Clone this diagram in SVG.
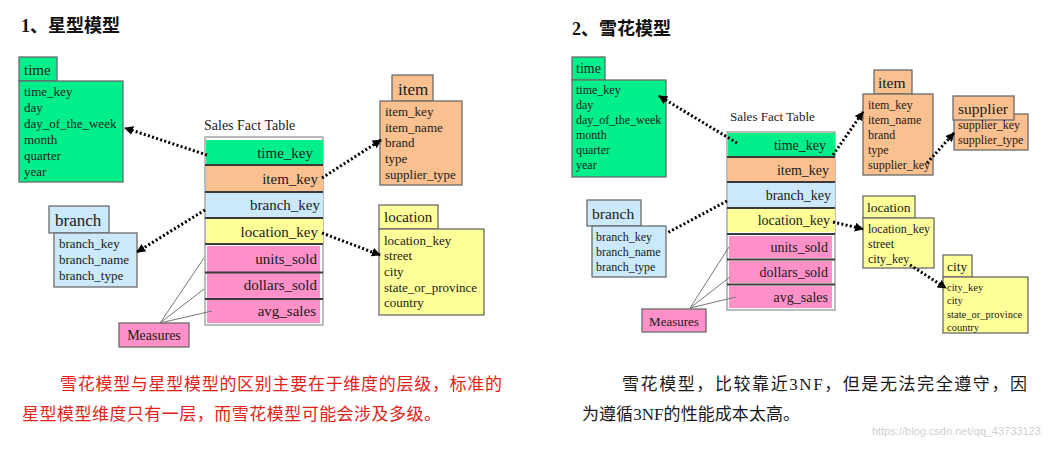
<svg xmlns="http://www.w3.org/2000/svg" width="1049" height="457" viewBox="0 0 1049 457">
<style>
  text{font-family:"Liberation Serif","Noto Sans CJK SC",serif;fill:#1a1a1a}
  .title{font-size:18px;font-weight:bold;fill:#111}
  .box{stroke:#6b6b6b;stroke-width:1.3}
  .g{fill:#00ef8a}.o{fill:#fac090}.b{fill:#cbe9fb}.y{fill:#ffff99}.p{fill:#ff91c8}
  .r13{font-size:13px}.r12{font-size:12px}.r11{font-size:10.5px}
  .fk{font-size:15px;text-anchor:end}.fk2{font-size:14px;text-anchor:end}
  .sep{stroke:#3a3a3a;stroke-width:2}
  .dot{fill:none;stroke:#000;stroke-width:3;stroke-dasharray:2 2.3}
  .thin{fill:none;stroke:#777;stroke-width:1}
  .note{font-size:17px}
</style>
<defs>
  <marker id="ah" viewBox="0 0 10 10" refX="9" refY="5" markerWidth="9" markerHeight="9" markerUnits="userSpaceOnUse" orient="auto">
    <path d="M0,0 L10,5 L0,10 z" fill="#000"/>
  </marker>
</defs>
<rect width="1049" height="457" fill="#fff"/>

<text class="title" x="21" y="32">1、星型模型</text>
<text class="title" x="572" y="35">2、雪花模型</text>

<!-- ===== LEFT: star schema ===== -->
<g id="L-time">
  <rect class="box g" x="19" y="57" width="38" height="24"/>
  <rect class="box g" x="19" y="81" width="104" height="101"/>
  <text x="24" y="75" style="font-size:15px">time</text>
  <g class="r13">
    <text x="24" y="96">time_key</text><text x="24" y="112">day</text><text x="24" y="128">day_of_the_week</text>
    <text x="24" y="144">month</text><text x="24" y="160">quarter</text><text x="24" y="176">year</text>
  </g>
</g>
<g id="L-item">
  <rect class="box o" x="392" y="75" width="41" height="26"/>
  <rect class="box o" x="380" y="101" width="82" height="84"/>
  <text x="398" y="95" style="font-size:17px">item</text>
  <g class="r13">
    <text x="385" y="116">item_key</text><text x="385" y="132">item_name</text><text x="385" y="147">brand</text>
    <text x="385" y="163">type</text><text x="385" y="179">supplier_type</text>
  </g>
</g>
<g id="L-branch">
  <rect class="box b" x="49" y="206" width="60" height="27"/>
  <rect class="box b" x="54" y="233" width="83" height="54"/>
  <text x="55" y="226" style="font-size:17px">branch</text>
  <g class="r13">
    <text x="59" y="248">branch_key</text><text x="59" y="264">branch_name</text><text x="59" y="280">branch_type</text>
  </g>
</g>
<g id="L-location">
  <rect class="box y" x="379" y="205" width="59" height="24"/>
  <rect class="box y" x="379" y="229" width="105" height="86"/>
  <text x="384" y="222" style="font-size:15px">location</text>
  <g class="r13">
    <text x="384" y="245">location_key</text><text x="384" y="260">street</text><text x="384" y="276">city</text>
    <text x="384" y="292">state_or_province</text><text x="384" y="307">country</text>
  </g>
</g>
<g id="L-fact">
  <text x="204" y="130" style="font-size:14px">Sales Fact Table</text>
  <rect x="205" y="137" width="118" height="188" fill="#fff" stroke="#999" stroke-width="1.3"/>
  <rect class="g" x="206" y="140" width="117" height="24"/>
  <rect class="o" x="206" y="166" width="117" height="25"/>
  <rect class="b" x="206" y="193" width="117" height="24"/>
  <rect class="y" x="206" y="219" width="117" height="24"/>
  <rect class="p" x="207" y="246" width="113" height="26"/>
  <rect class="p" x="207" y="273" width="113" height="25"/>
  <rect class="p" x="207" y="300" width="113" height="23"/>
  <g class="sep">
    <line x1="205" y1="165" x2="323" y2="165"/><line x1="205" y1="192" x2="323" y2="192"/>
    <line x1="205" y1="218" x2="323" y2="218"/><line x1="205" y1="244" x2="323" y2="244"/>
    <line x1="205" y1="272.5" x2="323" y2="272.5"/><line x1="205" y1="299" x2="323" y2="299"/>
  </g>
  <text class="fk" x="313" y="158">time_key</text>
  <text class="fk" x="318" y="184">item_key</text>
  <text class="fk" x="320" y="210">branch_key</text>
  <text class="fk" x="318" y="237">location_key</text>
  <text class="fk" x="317" y="264">units_sold</text>
  <text class="fk" x="317" y="290">dollars_sold</text>
  <text class="fk" x="316" y="316">avg_sales</text>
</g>
<g id="L-measures">
  <rect class="box p" x="119" y="323" width="70" height="24"/>
  <text x="154" y="340" style="font-size:14px" text-anchor="middle">Measures</text>
</g>

<!-- ===== RIGHT: snowflake schema ===== -->
<g id="R-time">
  <rect class="box g" x="572" y="57" width="33" height="23"/>
  <rect class="box g" x="572" y="80" width="94" height="97"/>
  <text x="576" y="73" style="font-size:14px">time</text>
  <g class="r12">
    <text x="576" y="94">time_key</text><text x="576" y="109">day</text><text x="576" y="124">day_of_the_week</text>
    <text x="576" y="139">month</text><text x="576" y="154">quarter</text><text x="576" y="169">year</text>
  </g>
</g>
<g id="R-branch">
  <rect class="box b" x="587" y="200" width="54" height="26"/>
  <rect class="box b" x="592" y="226" width="74" height="51"/>
  <text x="592" y="219" style="font-size:15.5px">branch</text>
  <g class="r12">
    <text x="596" y="241">branch_key</text><text x="596" y="256">branch_name</text><text x="596" y="271">branch_type</text>
  </g>
</g>
<g id="R-measures">
  <rect class="box p" x="642" y="309" width="64" height="23"/>
  <text x="674" y="326" style="font-size:13px" text-anchor="middle">Measures</text>
</g>
<g id="R-item">
  <rect class="box o" x="874" y="70" width="38" height="24"/>
  <rect class="box o" x="863" y="94" width="70" height="81"/>
  <text x="878" y="88" style="font-size:15.5px">item</text>
  <g class="r12">
    <text x="868" y="109">item_key</text><text x="868" y="124">item_name</text><text x="868" y="139">brand</text>
    <text x="868" y="154">type</text><text x="868" y="169">supplier_key</text>
  </g>
</g>
<g id="R-supplier">
  <rect class="box o" x="954" y="114" width="74" height="36"/>
  <rect class="box o" x="953" y="96" width="61" height="24"/>
  <text x="958" y="114" style="font-size:15.5px">supplier</text>
  <g class="r12">
    <text x="958" y="129">supplier_key</text><text x="958" y="144">supplier_type</text>
  </g>
</g>
<g id="R-location">
  <rect class="box y" x="863" y="196" width="52" height="22"/>
  <rect class="box y" x="863" y="218" width="71" height="50"/>
  <text x="867" y="212" style="font-size:13.5px">location</text>
  <g class="r12">
    <text x="868" y="233">location_key</text><text x="868" y="248">street</text><text x="868" y="263">city_key</text>
  </g>
</g>
<g id="R-city">
  <rect class="box y" x="943" y="255" width="29" height="22"/>
  <rect class="box y" x="943" y="277" width="85" height="56"/>
  <text x="947" y="271" style="font-size:13.5px">city</text>
  <g class="r11">
    <text x="947" y="291">city_key</text><text x="947" y="304">city</text><text x="947" y="318">state_or_province</text>
    <text x="947" y="331">country</text>
  </g>
</g>
<g id="R-fact">
  <text x="730" y="121" style="font-size:13px">Sales Fact Table</text>
  <rect x="727" y="132" width="108" height="178" fill="#fff" stroke="#999" stroke-width="1.3"/>
  <rect class="g" x="728" y="133" width="107" height="23"/>
  <rect class="o" x="728" y="158" width="107" height="23"/>
  <rect class="b" x="728" y="183" width="107" height="24"/>
  <rect class="y" x="728" y="209" width="107" height="23"/>
  <rect class="p" x="729" y="236" width="103" height="22"/>
  <rect class="p" x="729" y="261" width="103" height="22"/>
  <rect class="p" x="729" y="286" width="103" height="22"/>
  <g class="sep">
    <line x1="727" y1="157" x2="835" y2="157"/><line x1="727" y1="182" x2="835" y2="182"/>
    <line x1="727" y1="208" x2="835" y2="208"/><line x1="727" y1="234" x2="835" y2="234"/>
    <line x1="727" y1="259.5" x2="835" y2="259.5"/><line x1="727" y1="284.5" x2="835" y2="284.5"/>
  </g>
  <text class="fk2" x="826" y="150">time_key</text>
  <text class="fk2" x="829" y="175">item_key</text>
  <text class="fk2" x="831" y="200">branch_key</text>
  <text class="fk2" x="830" y="225">location_key</text>
  <text class="fk2" x="828" y="252">units_sold</text>
  <text class="fk2" x="828" y="277">dollars_sold</text>
  <text class="fk2" x="828" y="302">avg_sales</text>
</g>

<!-- ===== connectors ===== -->
<g id="connectors">
  <path class="dot" d="M207,155 L125,128" marker-end="url(#ah)"/>
  <path class="dot" d="M322,178 L381,140" marker-end="url(#ah)"/>
  <path class="dot" d="M205,210 L137,252" marker-end="url(#ah)"/>
  <path class="dot" d="M322,233 L380,255" marker-end="url(#ah)"/>
  <path class="thin" d="M160,323 L204,258 M160,323 L204,289 M160,323 L212,311"/>

  <path class="dot" d="M737,143 L659,96" marker-end="url(#ah)"/>
  <path class="dot" d="M833,155 L863,112" marker-end="url(#ah)"/>
  <path class="dot" d="M927,163 L954,133" marker-end="url(#ah)"/>
  <path class="dot" d="M727,201 L667,233"/>
  <path class="dot" d="M833,222 L863,229" marker-end="url(#ah)"/>
  <path class="dot" d="M910,265 L946,288" marker-end="url(#ah)"/>
  <path class="thin" d="M690,308 L729,247 M690,308 L730,277 M690,308 L736,297"/>
</g>

<!-- ===== notes ===== -->
<g id="notes">
  <text class="note" x="60" y="390" style="fill:#e2231a" textLength="442" lengthAdjust="spacing">雪花模型与星型模型的区别主要在于维度的层级，标准的</text>
  <text class="note" x="22" y="420" style="fill:#e2231a" textLength="419" lengthAdjust="spacing">星型模型维度只有一层，而雪花模型可能会涉及多级。</text>
  <text class="note" x="622" y="390" textLength="405" lengthAdjust="spacing">雪花模型，比较靠近3NF，但是无法完全遵守，因</text>
  <text class="note" x="582" y="420" textLength="218" lengthAdjust="spacing">为遵循3NF的性能成本太高。</text>
  <text x="872" y="435" style="font-family:'Liberation Sans',sans-serif;font-size:11px;fill:#cfcfcf">https://blog.csdn.net/qq_43733123</text>
</g>
</svg>
